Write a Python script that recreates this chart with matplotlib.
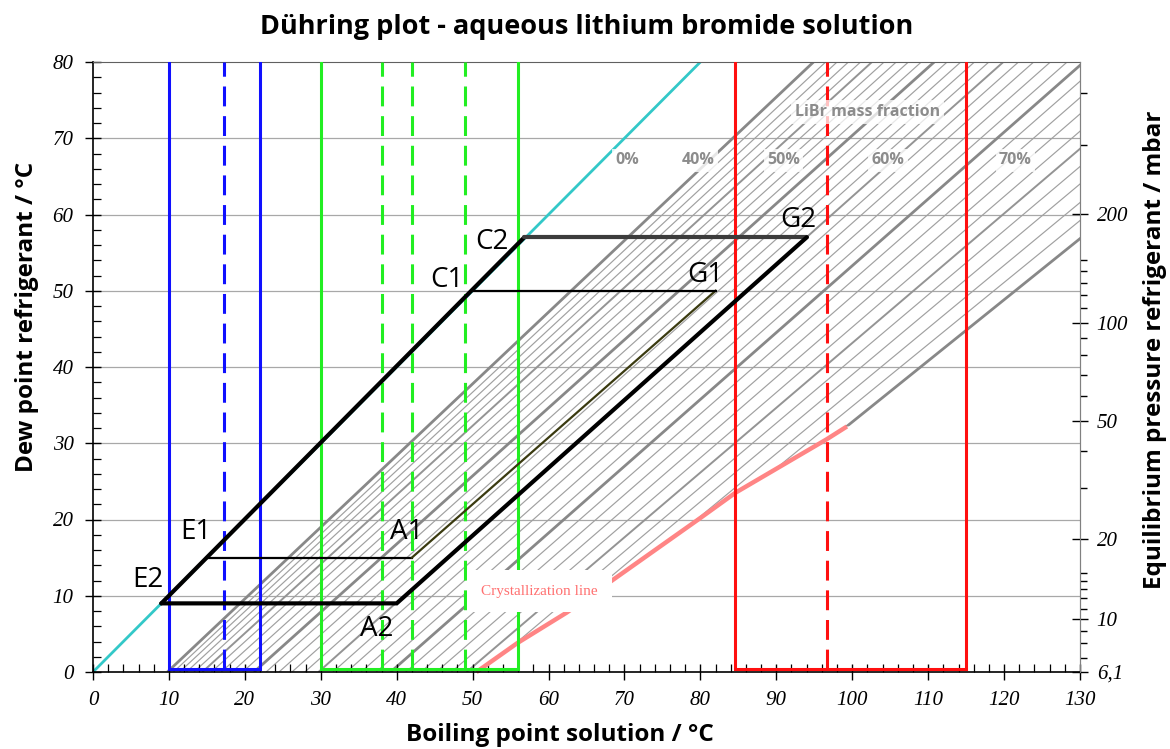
import matplotlib
matplotlib.use("Agg")
import matplotlib.pyplot as plt
from matplotlib.patches import Polygon
from matplotlib.ticker import MultipleLocator

# ---------------- data ----------------
# LiBr mass fraction lines (Dühring lines), boiling point of solution at dew point 0 °C and 80 °C
libr_fraction = [40, 41, 42, 43, 44, 45, 46, 47, 48, 49, 50, 51, 52, 53, 54, 55,
                 56, 57, 58, 59, 60, 61, 62, 63, 64, 65, 66, 67, 68, 69, 70]
t_sol_dew0 = [9.8, 10.6, 11.4, 12.3, 13.3, 14.4, 15.6, 16.9, 18.3, 19.7, 21.2, 22.8,
              24.5, 26.2, 27.9, 29.7, 31.6, 33.4, 35.3, 37.3, 39.2, 41.2, 43.2, 45.2,
              47.2, 49.2, 51.2, 53.2, 55.2, 57.1, 59.1]
t_sol_dew80 = [94.9, 96.5, 98.0, 99.5, 101.1, 102.6, 104.2, 105.8, 107.4, 109.1, 110.8,
               112.5, 114.3, 116.1, 118.0, 119.9, 121.9, 123.9, 126.1, 128.3, 130.5,
               132.9, 135.4, 137.9, 140.6, 143.4, 146.3, 149.2, 152.4, 155.6, 158.9]

# crystallization line
cryst_t_sol = [50.5, 55.9, 62.4, 80.0, 84.6, 96.6, 99.3]
cryst_t_dew = [0.0, 3.8, 7.8, 20.2, 23.5, 30.5, 32.2]

# pure water (0 %) line
water_t = [0, 80]

# absorption cycles
cycle2_names = ["E2", "C2", "G2", "A2"]
cycle2_x = [9, 56.8, 94.0, 40.0]
cycle2_y = [9, 57.0, 57.0, 9.0]
cycle1_names = ["E1", "C1", "G1", "A1"]
cycle1_x = [15.0, 50.0, 82.0, 42.0]
cycle1_y = [15.0, 50.0, 50.0, 15.0]

# temperature bands (evaporator / absorber+condenser / generator)
blue_band = [10.0, 22.0]
blue_dashed = [17.3]
green_band = [30.0, 56.0]
green_dashed = [38.0, 42.0, 49.0]
red_band = [84.5, 115.0]
red_dashed = [96.7]
band_bottom = 0.4

# right axis: equilibrium pressure (mbar) and its dew point position (°C)
p_major_labels = ["6,1", "10", "20", "50", "100", "200"]
p_major_dew = [0.0, 6.97, 17.5, 32.88, 45.81, 60.06]
p_minor_dew = [1.89, 3.77, 5.44, 8.3, 9.7, 10.9, 12.0, 13.0, 24.08, 28.96,
               36.16, 39.0, 41.51, 43.76, 47.69, 49.42, 51.04, 52.55, 53.97,
               69.1, 75.87]

pct_labels = ["0%", "40%", "50%", "60%", "70%"]
pct_label_x = [70.4, 79.7, 90.9, 104.7, 121.5]
pct_label_y = 67.1

# ---------------- figure ----------------
W, H = 1170, 749
fig = plt.figure(figsize=(W / 100, H / 100), dpi=100)
L, R, T, B = 93, 1080, 62, 672
ax = fig.add_axes([L / W, 1 - B / H, (R - L) / W, (B - T) / H])
ax.set_xlim(0, 130)
ax.set_ylim(0, 80)

serif_it = dict(family="Liberation Serif", style="italic", size=15)
sans = "Open Sans"

# grid
for yv in range(10, 80, 10):
    ax.axhline(yv, color="#a8a8a8", lw=0.9, zorder=0.5)

# clip region: above / left of crystallization line
clip_verts = [(-10, -10), (cryst_t_sol[0], -10)] + list(zip(cryst_t_sol, cryst_t_dew)) + \
             [(300, cryst_t_dew[-1]), (300, 300), (-10, 300)]
clip_poly = Polygon(clip_verts, closed=True, transform=ax.transData, facecolor="none",
                    edgecolor="none")
ax.add_patch(clip_poly)

for xf, t0, t80 in zip(libr_fraction, t_sol_dew0, t_sol_dew80):
    if xf % 10 == 0:
        col, lw = "#888888", 2.0
    elif xf % 5 == 0:
        col, lw = "#949494", 1.4
    else:
        col, lw = "#a0a0a0", 0.85
    ln, = ax.plot([t0, t80], [0, 80], color=col, lw=lw, zorder=1, solid_capstyle="butt")
    ln.set_clip_path(clip_poly)

# pure water line
ax.plot(water_t, water_t, color="#33c8c8", lw=2.0, zorder=1.5)

# crystallization line
ax.plot(cryst_t_sol, cryst_t_dew, color="#ff8585", lw=3.2, zorder=2,
        solid_capstyle="butt", clip_on=False)

# bands
def band(xs, dashed, color):
    ax.plot([xs[0], xs[0], xs[1], xs[1]], [81, band_bottom, band_bottom, 81],
            color=color, lw=2.2, zorder=3, solid_joinstyle="miter")
    for xd in dashed:
        ax.plot([xd, xd], [band_bottom, 80], color=color, lw=2.2, zorder=3,
                dashes=(6.5, 3.2))

band(blue_band, blue_dashed, "#1010ff")
band(green_band, green_dashed, "#22ee22")
band(red_band, red_dashed, "#ff0f0f")

# cycle 2 (thick)
E2, C2, G2, A2 = [(cycle2_x[i], cycle2_y[i]) for i in range(4)]
ax.plot([E2[0], C2[0]], [E2[1], C2[1]], color="black", lw=3.0, zorder=4, solid_capstyle="round")
ax.plot([C2[0], G2[0]], [C2[1], G2[1]], color="#3c3c3c", lw=3.0, zorder=4, solid_capstyle="round")
ax.plot([G2[0], A2[0], E2[0]], [G2[1], A2[1], E2[1]], color="black", lw=3.0, zorder=4,
        solid_capstyle="round", solid_joinstyle="miter")
# cycle 1 (thin)
E1, C1, G1, A1 = [(cycle1_x[i], cycle1_y[i]) for i in range(4)]
ax.plot([E1[0], A1[0]], [E1[1], A1[1]], color="black", lw=1.6, zorder=4)
ax.plot([A1[0], G1[0]], [A1[1], G1[1]], color="#3a3a10", lw=1.6, zorder=4)
ax.plot([G1[0], C1[0]], [G1[1], C1[1]], color="black", lw=1.6, zorder=4)

# point labels
pt_label_pos = {"E2": (7.2, 12.1), "C2": (52.5, 56.4), "G2": (92.9, 59.3), "A2": (37.4, 5.7),
                "E1": (13.6, 18.4), "C1": (46.6, 51.4), "G1": (80.6, 52.1), "A1": (41.3, 18.4)}
for name, (px, py) in pt_label_pos.items():
    ax.text(px, py, name, fontsize=20, family=sans, ha="center", va="center", zorder=6)

# mass fraction labels
ax.text(102.0, 73.4, "LiBr mass fraction", fontsize=11.5, family=sans, weight="bold",
        color="#8c8c8c", ha="center", va="center", zorder=5,
        bbox=dict(boxstyle="square,pad=0.25", fc="white", ec="none", alpha=0.75))
for lab, lx in zip(pct_labels, pct_label_x):
    ax.text(lx, pct_label_y, lab, fontsize=11.5, family=sans, weight="bold",
            color="#8c8c8c", ha="center", va="center", zorder=5,
            bbox=dict(boxstyle="square,pad=0.2", fc="white", ec="none", alpha=0.8))

# crystallization label
ax.text(58.8, 10.6, "Crystallization line", fontsize=11, family="Liberation Serif",
        color="#ff7070", ha="center", va="center", zorder=7,
        bbox=dict(boxstyle="square,pad=0.95", fc="white", ec="none"))

# ticks
ax.xaxis.set_major_locator(MultipleLocator(10))
ax.xaxis.set_minor_locator(MultipleLocator(2))
ax.yaxis.set_major_locator(MultipleLocator(10))
ax.yaxis.set_minor_locator(MultipleLocator(2))
ax.tick_params(which="major", direction="inout", length=12, width=1.0, color="black",
               pad=8)
ax.tick_params(which="minor", direction="in", length=6, width=0.9, color="black")
for lab in ax.get_xticklabels() + ax.get_yticklabels():
    lab.set_fontproperties(serif_it)
    lab.set_fontsize(15)

for s in ["left", "bottom"]:
    ax.spines[s].set_color("black")
    ax.spines[s].set_linewidth(1.2)
ax.spines["top"].set_color("#606060")
ax.spines["right"].set_color("#808080")

ax2 = ax.twinx()
ax2.set_ylim(0, 80)
ax2.set_yticks(p_major_dew)
ax2.set_yticklabels(p_major_labels)
ax2.set_yticks(p_minor_dew, minor=True)
ax2.tick_params(which="major", direction="inout", length=12, width=1.0, pad=6)
ax2.tick_params(which="minor", direction="out", length=5, width=1.0)
for lab in ax2.get_yticklabels():
    lab.set_fontproperties(serif_it)
    lab.set_fontsize(15)
for s in ax2.spines.values():
    s.set_visible(False)
ax2.spines["right"].set_visible(True)
ax2.spines["right"].set_color("#808080")

# titles / axis labels
fig.text(586.5 / W, 1 - 27 / H, "Dühring plot - aqueous lithium bromide solution",
         fontsize=19.5, weight="bold", family=sans, ha="center", va="center")
fig.text(560 / W, 1 - 735 / H, "Boiling point solution / °C", fontsize=17.5,
         weight="bold", family=sans, ha="center", va="center")
fig.text(27 / W, 1 - 317 / H, "Dew point refrigerant / °C", fontsize=17.5,
         weight="bold", family=sans, ha="center", va="center", rotation=90)
fig.text(1155 / W, 1 - 350 / H, "Equilibrium pressure refrigerant / mbar", fontsize=17.5,
         weight="bold", family=sans, ha="center", va="center", rotation=90)

fig.savefig("out.png", dpi=100)
